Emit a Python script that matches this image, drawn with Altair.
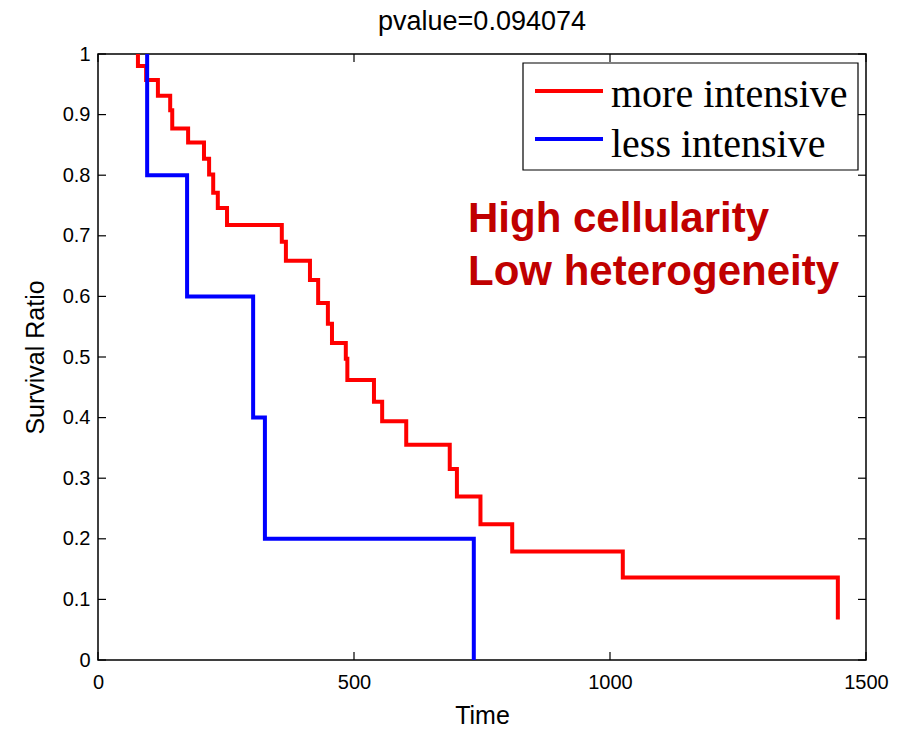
import altair as alt
import pandas as pd

# ---- data ----
series_names = ["more intensive", "less intensive"]
series_colors = ["#ff0000", "#0000ff"]

more_time = [78, 78, 94, 117, 141, 145, 176, 207, 217, 225, 234, 252, 359, 367,
             414, 430, 449, 457, 484, 487, 539, 555, 602, 687, 701, 747, 809, 1025, 1445]
more_surv = [1.0, 0.980, 0.957, 0.931, 0.907, 0.877, 0.854, 0.827, 0.801, 0.771,
             0.746, 0.718, 0.690, 0.659, 0.627, 0.589, 0.555, 0.523, 0.497, 0.462,
             0.426, 0.394, 0.355, 0.315, 0.270, 0.224, 0.179, 0.136, 0.067]

less_time = [96, 96, 174, 303, 326, 734]
less_surv = [1.0, 0.8, 0.6, 0.4, 0.2, 0.0]

x_ticks = [0, 500, 1000, 1500]
y_ticks = [0, 0.1, 0.2, 0.3, 0.4, 0.5, 0.6, 0.7, 0.8, 0.9, 1.0]

title_text = "pvalue=0.094074"
x_title = "Time"
y_title = "Survival Ratio"
annotation_lines = ["High cellularity", "Low heterogeneity"]

# ---- build table ----
rows = []
for i, (t, s) in enumerate(zip(more_time, more_surv)):
    rows.append({"series": series_names[0], "time": t, "surv": s, "order": i})
for i, (t, s) in enumerate(zip(less_time, less_surv)):
    rows.append({"series": series_names[1], "time": t, "surv": s, "order": i})
df = pd.DataFrame(rows)

W, H = 768, 606
TICK = 8

x_scale = alt.Scale(domain=[0, 1500], nice=False)
y_scale = alt.Scale(domain=[0, 1], nice=False)
color_scale = alt.Scale(domain=series_names, range=series_colors)

x_axis = alt.Axis(values=x_ticks, format="d", title=x_title, labelPadding=12,
                  labelFlush=False, titleX=W / 2, titleY=55,
                  titleBaseline="middle")
y_axis = alt.Axis(values=y_ticks, format="~g", title=y_title, labelPadding=8,
                  labelFlush=False, titleX=-63, titleY=H / 2, titleAngle=270,
                  titleBaseline="middle", titleAlign="center")

X = alt.X("time:Q", scale=x_scale, axis=x_axis)
Y = alt.Y("surv:Q", scale=y_scale, axis=y_axis)

lines = alt.Chart(df).mark_line(interpolate="step-after", strokeWidth=4).encode(
    x=X,
    y=Y,
    color=alt.Color("series:N", scale=color_scale, legend=None),
    order="order:Q",
)

xt = pd.DataFrame({"time": x_ticks})
yt = pd.DataFrame({"surv": y_ticks})
tick_style = dict(color="black", strokeWidth=1.2)

bottom_ticks = alt.Chart(xt).mark_rule(**tick_style).encode(
    x=X, y=alt.value(H), y2=alt.value(H - TICK))
top_ticks = alt.Chart(xt).mark_rule(**tick_style).encode(
    x=X, y=alt.value(0), y2=alt.value(TICK))
left_ticks = alt.Chart(yt).mark_rule(**tick_style).encode(
    y=Y, x=alt.value(0), x2=alt.value(TICK))
right_ticks = alt.Chart(yt).mark_rule(**tick_style).encode(
    y=Y, x=alt.value(W), x2=alt.value(W - TICK))

# ---- legend drawn by hand (box, sample lines, labels) ----
leg_df = pd.DataFrame({"series": series_names, "row": [0, 1]})
LX0, LX1, LY0, LY1 = 425, 760, 9, 116
legend_box = alt.Chart(pd.DataFrame({"a": [0]})).mark_rect(
    fill="white", stroke="black", strokeWidth=1.2
).encode(x=alt.value(LX0), x2=alt.value(LX1), y=alt.value(LY0), y2=alt.value(LY1))
legend_lines = alt.Chart(leg_df).transform_calculate(
    py="37 + 48 * datum.row"
).mark_rule(strokeWidth=4).encode(
    x=alt.value(437), x2=alt.value(505),
    y=alt.Y("py:Q", scale=None),
    color=alt.Color("series:N", scale=color_scale, legend=None),
)
legend_text = alt.Chart(leg_df).transform_calculate(
    py="53 + 50 * datum.row"
).mark_text(
    align="left", baseline="alphabetic", font="Liberation Serif",
    fontSize=40, color="black",
).encode(
    x=alt.value(513),
    y=alt.Y("py:Q", scale=None),
    text="series:N",
)

annot = alt.Chart(pd.DataFrame({"a": [0]})).mark_text(
    text=annotation_lines, align="left", baseline="alphabetic",
    font="Liberation Sans", fontSize=42, fontWeight="bold",
    color="#c00000", lineHeight=53,
).encode(x=alt.value(370), y=alt.value(178))

chart = alt.layer(
    lines, bottom_ticks, top_ticks, left_ticks, right_ticks,
    legend_box, legend_lines, legend_text, annot
).properties(
    width=W, height=H,
    title=alt.TitleParams(text=title_text, font="Liberation Sans", fontSize=27,
                          fontWeight="normal", color="black", offset=8),
    padding={"left": 98, "top": 54, "right": 40, "bottom": 70},
    autosize=alt.AutoSizeParams(type="none"),
    background="white",
).configure_view(
    stroke="black", strokeWidth=1.5
).configure_axis(
    domain=False, ticks=False, grid=False,
    labelFont="Liberation Sans", labelFontSize=20, labelColor="black",
    titleFont="Liberation Sans", titleFontSize=25, titleFontWeight="normal",
    titleColor="black",
)

chart.save("out.html", embed_options={"renderer": "svg", "actions": False})
